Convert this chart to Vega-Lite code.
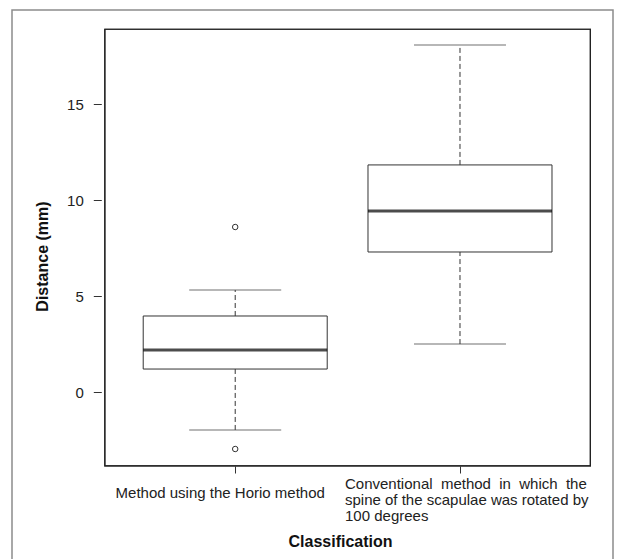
{
  "$schema": "https://vega.github.io/schema/vega-lite/v6.json",
  "width": 601,
  "height": 560,
  "autosize": "none",
  "padding": {"left": 12, "top": 10, "right": 6, "bottom": 0},
  "background": "white",
  "config": {
    "view": {"stroke": "#8c8c8c", "strokeWidth": 1.5},
    "font": "Liberation Sans"
  },
  "datasets": {
    "boxes": [
      {"group": 1, "classification": "Method using the Horio method", "lower": -1.96, "q1": 1.21, "median": 2.2, "q3": 3.97, "upper": 5.32},
      {"group": 2, "classification": "Conventional method in which the spine of the scapulae was rotated by 100 degrees", "lower": 2.51, "q1": 7.3, "median": 9.43, "q3": 11.83, "upper": 18.07}
    ],
    "outliers": [
      {"group": 1, "distance": 8.6},
      {"group": 1, "distance": -2.95}
    ]
  },
  "layer": [
    {
      "data": {"name": "boxes"},
      "mark": {"type": "rule", "color": "#333333", "strokeDash": [5, 3], "strokeWidth": 1},
      "encoding": {
        "x": {
          "field": "group", "type": "quantitative",
          "scale": {"domain": [0.0293, 2.6584], "nice": false, "zero": false},
          "axis": {
            "title": "Classification", "titleFontSize": 16, "titleFontWeight": "bold", "titleColor": "#111111",
            "titleX": 328, "titleY": 75, "titleBaseline": "middle", "titleAlign": "center",
            "offset": -104, "values": [1, 2], "domain": false, "grid": false,
            "tickSize": 7, "tickColor": "#333333",
            "labelExpr": "datum.value == 1 ? 'Method using the Horio method' : ['Conventional\u00a0 method\u00a0 in\u00a0 which\u00a0 the', 'spine of the scapulae was rotated by', '100 degrees']",
            "labelFontSize": 15, "labelColor": "#222222", "labelLineHeight": 16, "labelLimit": 1000,
            "labelOverlap": false, "labelFlush": false, "labelBound": false, "labelBaseline": "top",
            "labelAlign": {"condition": {"test": "datum.value == 2", "value": "left"}, "value": "center"},
            "labelOffset": {"condition": {"test": "datum.value == 2", "value": -115.5}, "value": -15.5},
            "labelPadding": {"condition": {"test": "datum.value == 2", "value": 3}, "value": 12}
          }
        },
        "y": {
          "field": "lower", "type": "quantitative",
          "scale": {"domain": [-9.246, 19.891], "nice": false, "zero": false},
          "axis": {
            "title": "Distance (mm)", "titleFontSize": 16, "titleFontWeight": "bold", "titleColor": "#111111",
            "titleX": -58.5, "titleY": 246, "titleBaseline": "middle", "titleAlign": "center",
            "offset": -89.3, "values": [0, 5, 10, 15], "domain": false, "grid": false,
            "tickSize": 8, "tickColor": "#333333",
            "labelFontSize": 15, "labelColor": "#222222", "labelPadding": 10,
            "labelFlush": false, "labelOverlap": false, "labelBound": false
          }
        },
        "y2": {"field": "q1"}
      }
    },
    {
      "data": {"name": "boxes"},
      "mark": {"type": "rule", "color": "#333333", "strokeDash": [5, 3], "strokeWidth": 1},
      "encoding": {
        "x": {"field": "group", "type": "quantitative"},
        "y": {"field": "q3", "type": "quantitative"},
        "y2": {"field": "upper"}
      }
    },
    {
      "data": {"name": "boxes"},
      "mark": {"type": "tick", "orient": "horizontal", "size": 92, "thickness": 1, "color": "#333333"},
      "encoding": {
        "x": {"field": "group", "type": "quantitative"},
        "y": {"field": "lower", "type": "quantitative"}
      }
    },
    {
      "data": {"name": "boxes"},
      "mark": {"type": "tick", "orient": "horizontal", "size": 92, "thickness": 1, "color": "#333333"},
      "encoding": {
        "x": {"field": "group", "type": "quantitative"},
        "y": {"field": "upper", "type": "quantitative"}
      }
    },
    {
      "data": {"name": "boxes"},
      "mark": {"type": "bar", "orient": "vertical", "size": 184, "fill": "white", "stroke": "#333333", "strokeWidth": 1},
      "encoding": {
        "x": {"field": "group", "type": "quantitative"},
        "y": {"field": "q1", "type": "quantitative"},
        "y2": {"field": "q3"}
      }
    },
    {
      "data": {"name": "boxes"},
      "mark": {"type": "tick", "orient": "horizontal", "size": 184, "thickness": 3, "color": "#000000"},
      "encoding": {
        "x": {"field": "group", "type": "quantitative"},
        "y": {"field": "median", "type": "quantitative"}
      }
    },
    {
      "data": {"name": "outliers"},
      "mark": {"type": "point", "shape": "circle", "filled": false, "size": 30, "stroke": "#333333", "strokeWidth": 1, "opacity": 1},
      "encoding": {
        "x": {"field": "group", "type": "quantitative"},
        "y": {"field": "distance", "type": "quantitative"}
      }
    },
    {
      "data": {"name": "boxes"},
      "mark": {"type": "rect", "fill": "transparent", "stroke": "#222222", "strokeWidth": 1.2},
      "encoding": {
        "x": {"datum": 0.42, "type": "quantitative"},
        "x2": {"datum": 2.58},
        "y": {"datum": -3.83, "type": "quantitative"},
        "y2": {"datum": 18.89}
      }
    }
  ]
}
